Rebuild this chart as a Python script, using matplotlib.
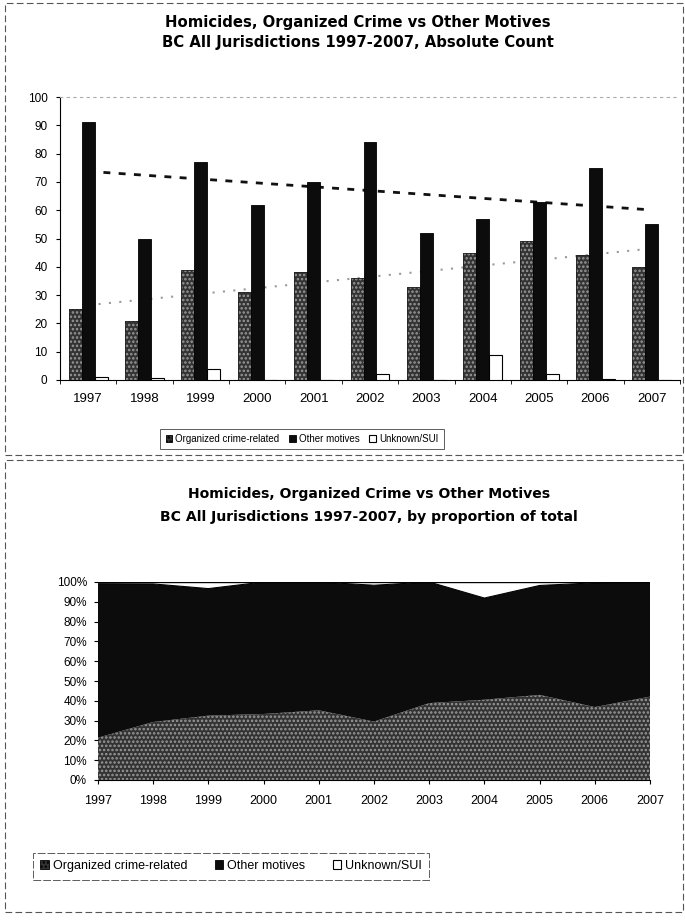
import numpy as np
import matplotlib
matplotlib.use("Agg")
import matplotlib.pyplot as plt
from matplotlib.patches import Rectangle, Patch

plt.rcParams['font.family'] = ['Liberation Sans', 'DejaVu Sans']
plt.rcParams['hatch.linewidth'] = 1.2

years = ['1997', '1998', '1999', '2000', '2001', '2002', '2003', '2004', '2005', '2006', '2007']
organized = [25, 21, 39, 31, 38, 36, 33, 45, 49, 44, 40]
other = [91, 50, 77, 62, 70, 84, 52, 57, 63, 75, 55]
unknown = [1, 0.7, 4, 0, 0, 2, 0, 9, 2, 0.5, 0]
series_names = ['Organized crime-related', 'Other motives', 'Unknown/SUI']
pct_ticks = ['0%', '10%', '20%', '30%', '40%', '50%', '60%', '70%', '80%', '90%', '100%']

W, H = 685, 924
fig = plt.figure(figsize=(W / 100, H / 100), dpi=100)

def fx(px):
    return px / W

def fy(py):
    return 1 - py / H

# panel borders
for (x0, y0, x1, y1) in [(5, 3, 683, 455), (5, 460, 683, 912)]:
    fig.patches.append(Rectangle((fx(x0), fy(y1)), fx(x1) - fx(x0), fy(y0) - fy(y1),
                                 transform=fig.transFigure, fill=False,
                                 edgecolor='#555555', lw=0.8, ls=(0, (6, 3))))

ORG_FACE = '#333333'
ORG_HATCH = '#9a9a9a'
OTH_FACE = '#0c0c0c'
TITLE_TOP = dict(fontsize=10.7, fontweight='bold', family=['DejaVu Sans'])
TITLE_BOT = dict(fontsize=10.1, fontweight='bold', family=['DejaVu Sans'])

# ---------------- Top chart ----------------
ax1 = fig.add_axes([fx(60), fy(380), fx(680) - fx(60), fy(97) - fy(380)])
x = np.arange(len(years))
w = 0.23
ax1.bar(x - w, organized, w, facecolor=ORG_FACE, edgecolor=ORG_HATCH, hatch='....', lw=0, zorder=2)
ax1.bar(x - w, organized, w, facecolor='none', edgecolor='#222222', lw=0.6, zorder=3)
ax1.bar(x, other, w, facecolor=OTH_FACE, edgecolor='black', lw=0.6, zorder=3)
ax1.bar(x + w, unknown, w, facecolor='white', edgecolor='black', lw=0.8, zorder=3)

# linear trendlines
p_org = np.polyfit(x, organized, 1)
p_oth = np.polyfit(x, other, 1)
xt = np.linspace(0, 10, 50)
ax1.plot(xt, np.polyval(p_oth, xt), color='#111111', lw=2.0, ls=(0, (2.5, 3)), zorder=1)
ax1.plot(xt, np.polyval(p_org, xt), color='#9a9a9a', lw=1.5, ls=(0, (1, 4)), zorder=1)

ax1.set_xlim(-0.5, len(years) - 0.5)
ax1.set_ylim(0, 100)
ax1.set_yticks(range(0, 101, 10))
ax1.tick_params(axis='y', labelsize=8.5, length=3, direction='out', pad=6)
ax1.set_xticks(x)
ax1.set_xticklabels(years, fontsize=9.5)
ax1.set_xticks(np.arange(-0.5, len(years), 1), minor=True)
ax1.tick_params(axis='x', which='major', length=0, pad=9)
ax1.tick_params(axis='x', which='minor', length=3, direction='out')
ax1.spines['top'].set_color('#aaaaaa')
ax1.spines['top'].set_linestyle((0, (2, 4)))
ax1.spines['right'].set_visible(False)
ax1.spines['left'].set_linewidth(0.8)
ax1.spines['bottom'].set_linewidth(0.8)

fig.text(fx(358), fy(22), 'Homicides, Organized Crime vs Other Motives', ha='center', va='center', **TITLE_TOP)
fig.text(fx(358), fy(43), 'BC All Jurisdictions 1997-2007, Absolute Count', ha='center', va='center', **TITLE_TOP)

handles = [Patch(facecolor=ORG_FACE, edgecolor='black', hatch='....', lw=0.6),
           Patch(facecolor=OTH_FACE, edgecolor='black', lw=0.6),
           Patch(facecolor='white', edgecolor='black', lw=0.8)]
leg1 = fig.legend(handles, series_names, loc='center', bbox_to_anchor=(fx(302), fy(439)), ncol=3,
                  fontsize=7, frameon=True, fancybox=False, handlelength=0.7, handleheight=0.7,
                  handletextpad=0.3, columnspacing=1.0, borderpad=0.55)
leg1.get_frame().set_edgecolor('#333333')
leg1.get_frame().set_linewidth(0.7)

# ---------------- Bottom chart ----------------
ax2 = fig.add_axes([fx(98), fy(780), fx(650) - fx(98), fy(582) - fy(780)])
org = np.array(organized, float)
oth = np.array(other, float)
unk = np.array(unknown, float)
tot = org + oth + unk
p1 = org / tot
p2 = oth / tot
p3 = unk / tot
ax2.stackplot(x, p1, p2, p3, colors=[ORG_FACE, OTH_FACE, 'white'], lw=0)
ax2.collections[0].set_hatch('....')
ax2.collections[0].set_edgecolor(ORG_HATCH)
ax2.plot(x, p1 + p2, color='black', lw=0.8)
ax2.plot(x, p1 + p2 + p3, color='black', lw=1.0)
ax2.set_xlim(0, len(years) - 1)
ax2.set_ylim(0, 1.0)
ax2.set_yticks(np.linspace(0, 1, 11))
ax2.set_yticklabels(pct_ticks, fontsize=8.5)
ax2.set_xticks(x)
ax2.set_xticklabels(years, fontsize=9)
ax2.tick_params(axis='x', length=3, direction='out', pad=8)
ax2.tick_params(axis='y', length=3, direction='out', pad=5)
for s in ['top', 'right']:
    ax2.spines[s].set_visible(False)
ax2.spines['left'].set_visible(False)
ax2.spines['bottom'].set_linewidth(0.8)

fig.text(fx(369), fy(494), 'Homicides, Organized Crime vs Other Motives', ha='center', va='center', **TITLE_BOT)
fig.text(fx(369), fy(517), 'BC All Jurisdictions 1997-2007, by proportion of total', ha='center', va='center',
         **TITLE_BOT)

leg2 = fig.legend(handles, series_names, loc='center', bbox_to_anchor=(fx(231), fy(866)), ncol=3,
                  fontsize=9, frameon=True, fancybox=False, handlelength=0.7, handleheight=0.7,
                  handletextpad=0.3, columnspacing=2.2, borderpad=0.6)
leg2.get_frame().set_edgecolor('#333333')
leg2.get_frame().set_linewidth(0.7)
leg2.get_frame().set_linestyle((0, (8, 2)))

fig.savefig('out.png', dpi=100)
